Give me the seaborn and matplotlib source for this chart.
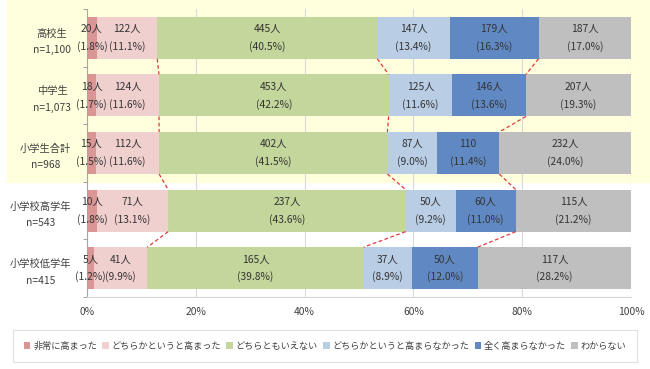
import numpy as np
import pandas as pd
import seaborn as sns
import matplotlib.pyplot as plt
from matplotlib.patches import Rectangle, Patch

# data
groups = ["高校生\nn=1,100", "中学生\nn=1,073", "小学生合計\nn=968",
          "小学校高学年\nn=543", "小学校低学年\nn=415"]
answers = ["非常に高まった", "どちらかというと高まった", "どちらともいえない",
           "どちらかというと高まらなかった", "全く高まらなかった", "わからない"]
counts_hs = [20, 122, 445, 147, 179, 187]
counts_jhs = [18, 124, 453, 125, 146, 207]
counts_es = [15, 112, 402, 87, 110, 232]
counts_es_hi = [10, 71, 237, 50, 60, 115]
counts_es_lo = [5, 41, 165, 37, 50, 117]
pct_hs = [1.8, 11.1, 40.5, 13.4, 16.3, 17.0]
pct_jhs = [1.7, 11.6, 42.2, 11.6, 13.6, 19.3]
pct_es = [1.5, 11.6, 41.5, 9.0, 11.4, 24.0]
pct_es_hi = [1.8, 13.1, 43.6, 9.2, 11.0, 21.2]
pct_es_lo = [1.2, 9.9, 39.8, 8.9, 12.0, 28.2]

colors = ["#D99694", "#F0CFCF", "#C3D69B", "#B9CDE5", "#6089C3", "#BFBFBF"]

counts = np.array([counts_hs, counts_jhs, counts_es, counts_es_hi, counts_es_lo], dtype=float)
pcts = np.array([pct_hs, pct_jhs, pct_es, pct_es_hi, pct_es_lo])
share = counts / counts.sum(axis=1, keepdims=True) * 100  # 100% stacked
cum = share.cumsum(axis=1)

sns.set_theme(style="white")
plt.rcParams['font.family'] = ['Noto Sans CJK JP', 'DejaVu Sans']
txt = '#333333'
fs = 7.4

fig = plt.figure(figsize=(6.5, 3.69), dpi=100)
# yellow band behind the first three rows
fig.patches.append(Rectangle((7/650, 1-182/369), 1-7/650, 182/369,
                             transform=fig.transFigure, color='#FFFFDD', zorder=-10))
ax = fig.add_axes([87/650, 1-297/369, 544/650, 288/369])
ax.patch.set_alpha(0)

bw = 0.73
df = pd.DataFrame(cum, columns=answers)
df['group'] = groups
# draw cumulative bars from the right so each segment covers the previous one
for k in range(len(answers)-1, -1, -1):
    sns.barplot(data=df, x=answers[k], y='group', color=colors[k], saturation=1,
                width=bw, orient='h', linewidth=0, ax=ax, zorder=2)

for i in range(len(groups)):
    for k in range(len(answers)):
        xc = cum[i, k] - share[i, k]/2
        lab = f"{int(counts[i, k])}人"
        if i == 2 and k == 4:
            lab = "110"
        ax.text(xc, i-0.15, lab, ha='center', va='center', fontsize=fs, color=txt, zorder=4)
        ax.text(xc, i+0.15, f"({pcts[i, k]:.1f}%)", ha='center', va='center',
                fontsize=fs, color=txt, zorder=4)

# dashed connector lines between rows
for i in range(len(groups)-1):
    for k in [1, 2, 4]:
        ax.plot([cum[i, k], cum[i+1, k]], [i+bw/2, i+1-bw/2], color='#E0393E',
                lw=0.9, ls=(0, (3, 2)), zorder=3)

ax.set_xlim(0, 100)
ax.set_ylim(len(groups)-0.5, -0.5)
ax.set_xticks([0, 20, 40, 60, 80, 100])
ax.set_xticklabels([f"{v}%" for v in [0, 20, 40, 60, 80, 100]], fontsize=fs, color='#404040')
ax.set_xlabel('')
ax.set_ylabel('')
ax.xaxis.grid(True, color='#D9D9D9', lw=0.8)
ax.set_axisbelow(True)
ax.tick_params(axis='x', length=0, pad=7)
ax.tick_params(axis='y', which='major', length=0, pad=11.5)
ax.set_yticks(range(len(groups)))
ax.set_yticklabels(groups, fontsize=fs, color='#404040')
for lbl in ax.get_yticklabels():
    lbl.set_multialignment('center')
    lbl.set_linespacing(1.8)
ax.set_yticks(np.arange(-0.5, len(groups)), minor=True)
ax.tick_params(axis='y', which='minor', left=True, length=3, width=0.8, color='#A6A6A6')
for s in ['top', 'right']:
    ax.spines[s].set_visible(False)
ax.spines['left'].set_color('#A6A6A6')
ax.spines['left'].set_linewidth(0.8)
ax.spines['bottom'].set_color('#D9D9D9')
ax.spines['bottom'].set_linewidth(0.8)

handles = [Patch(facecolor=c, edgecolor='none') for c in colors]
leg = fig.legend(handles, answers, loc='center', ncol=6, mode='expand',
                 bbox_to_anchor=(13/650, 1-362/369, 624/650, 32/369),
                 fontsize=6.6, frameon=True, fancybox=False, edgecolor='#D9D9D9',
                 handlelength=0.7, handleheight=0.7, handletextpad=0.3,
                 borderpad=1.2, borderaxespad=0, columnspacing=0.4)
leg.get_frame().set_linewidth(0.8)
for t in leg.get_texts():
    t.set_color('#404040')

plt.savefig('out.png', dpi=100)
